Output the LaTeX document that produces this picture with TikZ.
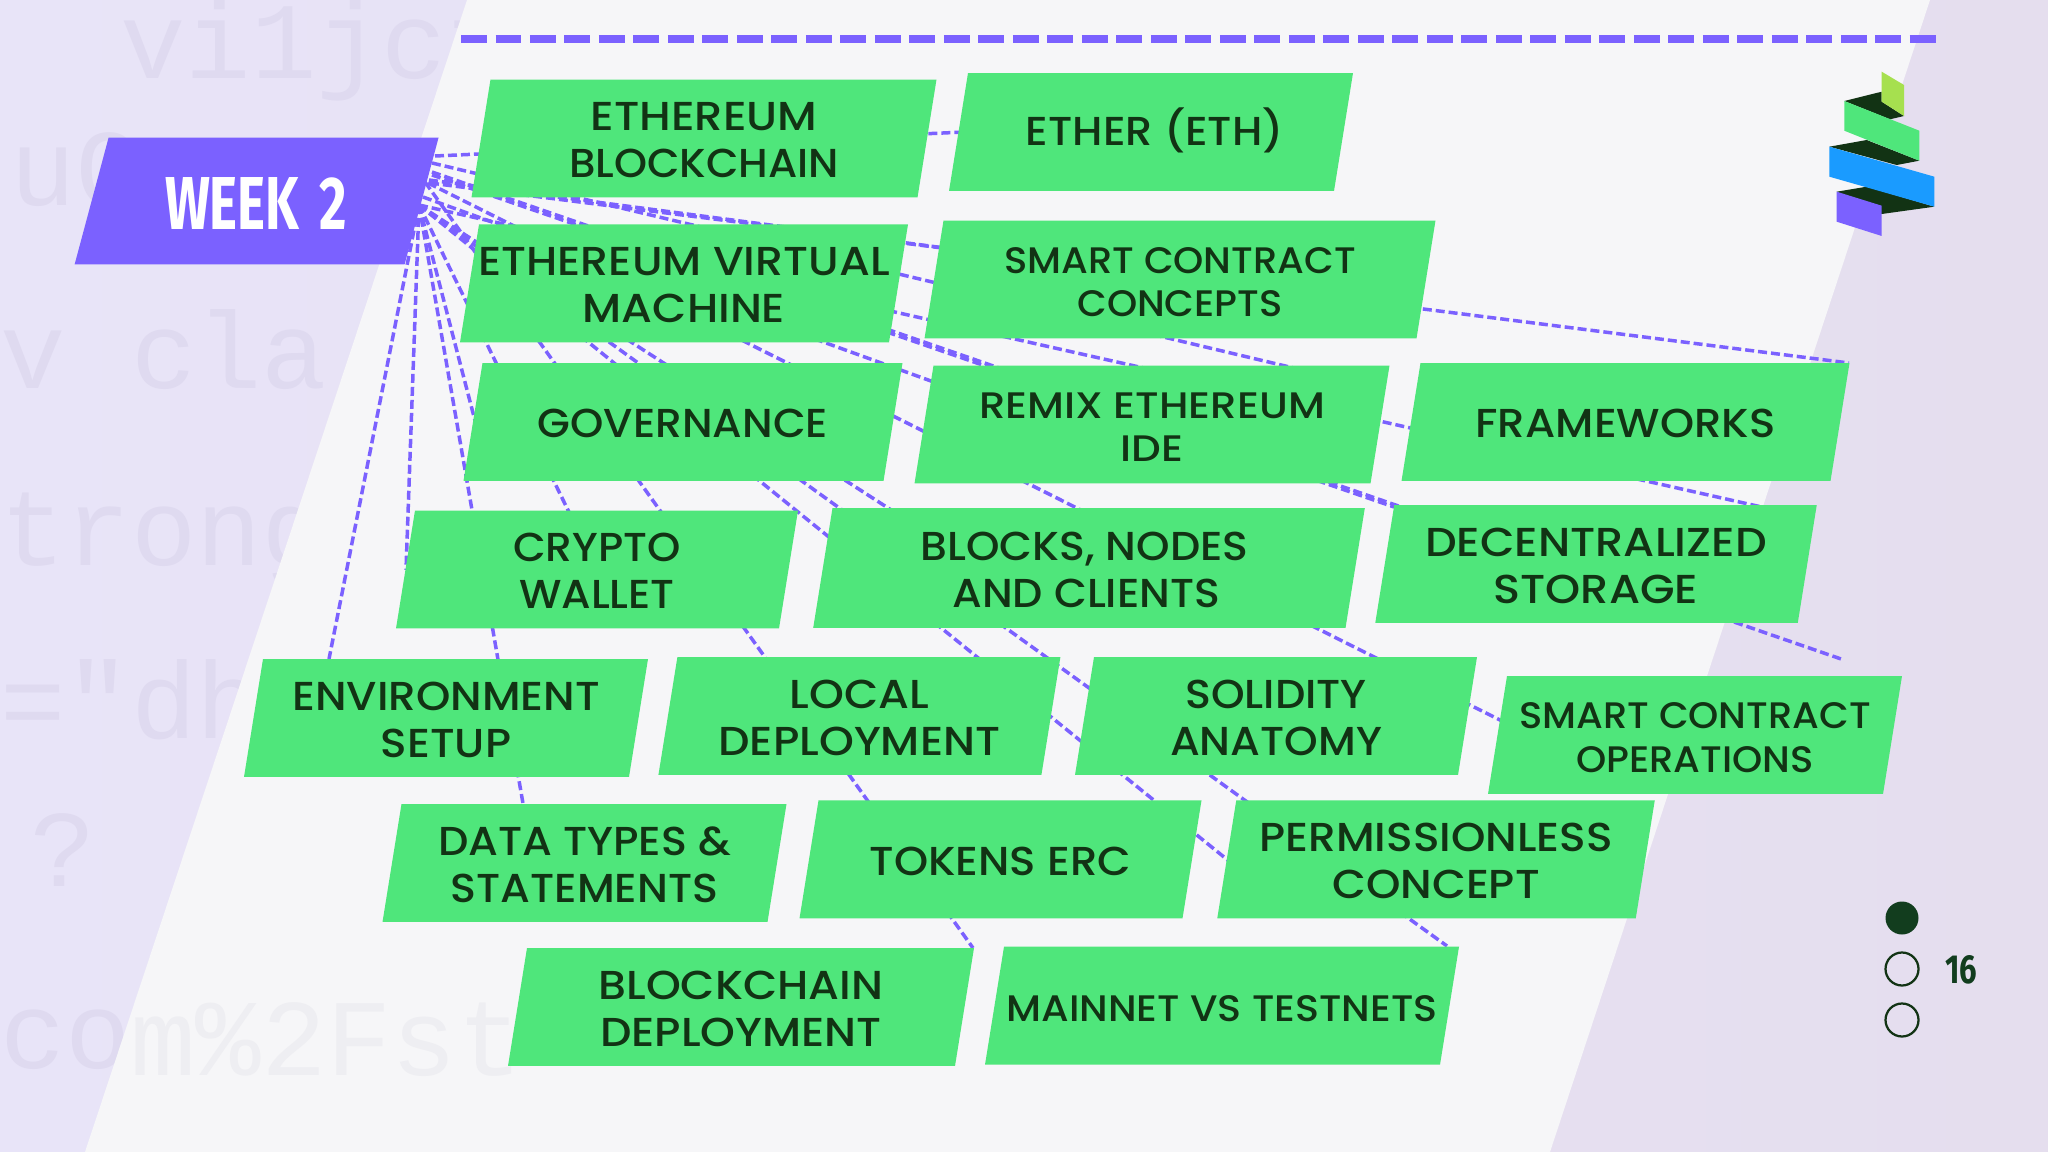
\documentclass[tikz,border=0pt]{standalone}
\usepackage{fontspec}
\usetikzlibrary{shapes.geometric}
\newfontfamily\popf{Poppins Medium}
\newfontfamily\wkf{Fira Sans}[BoldFont=Fira Sans Bold]
\newfontfamily\codef{Liberation Mono}
\definecolor{gboxc}{HTML}{4FE67B}
\definecolor{gtext}{HTML}{123314}
\definecolor{purp}{HTML}{7B61FF}
\definecolor{sheet}{HTML}{F6F6F8}
\definecolor{lavA}{HTML}{E8E4F8}
\definecolor{lavB}{HTML}{E5DEEE}
\definecolor{ghost}{HTML}{DFDAF0}
\definecolor{ghostW}{HTML}{EEEEF2}
\definecolor{limec}{HTML}{A6E04F}
\definecolor{bluec}{HTML}{1A9BFF}
\definecolor{pgc}{HTML}{123D1E}
\newcommand\tl[2][1.06]{\smash{\raisebox{-.43em}{\makebox[0pt][c]{\scalebox{#1}[1]{\begin{tabular}{@{}c@{}}#2\end{tabular}}}}}}
\newcommand\lgt{\fontsize{23}{26.7}\selectfont}
\newcommand\sml{\fontsize{21}{24.7}\selectfont}
\pgfdeclarelayer{bglayer}
\pgfdeclarelayer{connlayer}
\pgfsetlayers{bglayer,connlayer,main}
\tikzset{
  gbox/.style={trapezium,trapezium left angle=80.85,trapezium right angle=99.15,
    fill=gboxc,draw=none,inner ysep=1.18cm,outer sep=0pt,text=gtext,font=\popf\lgt},
  smalltext/.style={font=\popf\sml},
  nw/.style={inner xsep={(#1/2-19)*0.02cm}},
  conn/.style={draw=purp,line width=0.7mm,dash pattern=on 0.18cm off 0.08cm},
  ghosttext/.style={font=\codef\fontsize{62}{62}\selectfont,text=ghost,anchor=west,inner sep=0pt},
  dot/.style={circle,minimum size=0.66cm,inner sep=0pt,draw=gtext,line width=0.45mm},
}
\begin{document}
\begin{tikzpicture}[x=0.02cm,y=-0.02cm]
\useasboundingbox (0,0) rectangle (2048,1152);
\begin{pgfonlayer}{bglayer}
  \shade[left color=lavA,right color=lavB] (0,0) rectangle (2048,1152);
  \node[ghosttext] (g1) at (120,50) {vi1jcf};
  \node[ghosttext] (g2) at (10,170) {uG};
  \node[ghosttext] (g3) at (0,350) {v cla};
  \node[ghosttext] (g4) at (0,540) {trong};
  \node[ghosttext] (g5) at (0,700) {="dh};
  \node[ghosttext] (g6) at (30,850) {?};
  \node[ghosttext] (g7) at (0,1040) {co};
  \fill[sheet] (467,0) -- (1930,0) -- (1550,1152) -- (85,1152) -- cycle;
  \node[ghosttext,text=ghostW] (g8) at (130,1040) {m\%2Fst};
\end{pgfonlayer}

% nodes
\node[fill=purp,trapezium,trapezium left angle=75,trapezium right angle=105,inner ysep=1.27cm,inner xsep=2.96cm] (week) at (256.6,201) {};
\node[text=white,inner sep=0pt] (weekt) at (256,204) {\resizebox{3.64cm}{1.04cm}{\wkf\bfseries WEEK\hspace{.38em}2}};

\node[gbox,nw=465] (n1) at (704,138.5) {\tl[1.04]{\scalebox{1.07}[1]{ETHEREUM}\\BLOCKCHAIN}};
\node[gbox,nw=404] (n2) at (1151,132) {\smash{\raisebox{2.5pt}{\tl[1.066]{\hspace{4pt}ETHER (ETH)}}}};
\node[gbox,nw=448] (n3) at (684,283.4) {\tl[1.097]{ETHEREUM VIRTUAL\\MACHINE}};
\node[gbox,smalltext,nw=511] (n4) at (1180,279.5) {\tl[1.043]{SMART CONTRACT\\CONCEPTS}};
\node[gbox,nw=439] (n5) at (683,422) {\tl[1.05]{GOVERNANCE}};
\node[gbox,smalltext,nw=475] (n6) at (1152,424.5) {\tl[1.134]{REMIX ETHEREUM\\IDE}};
\node[gbox,nw=448] (n7) at (1625.5,422) {\tl[1.075]{FRAMEWORKS}};
\node[gbox,nw=402] (n8) at (597,569.5) {\tl[1.05]{CRYPTO\\WALLET}};
\node[gbox,nw=551,inner ysep=1.2cm] (n9) at (1089,568) {\tl[1.055]{\hspace{-5pt}BLOCKS, NODES\\\hspace{-3pt}AND CLIENTS}};
\node[gbox,nw=441.5] (n10) at (1596,564) {\tl[1.106]{DECENTRALIZED\\STORAGE}};
\node[gbox,nw=404] (n11) at (446,718) {\tl[1.083]{ENVIRONMENT\\SETUP}};
\node[gbox,nw=402] (n12) at (859.4,716) {\tl[1.098]{LOCAL\\DEPLOYMENT}};
\node[gbox,nw=402] (n13) at (1276,716) {\tl[1.06]{SOLIDITY\\ANATOMY}};
\node[gbox,smalltext,nw=414] (n14) at (1695,735) {\tl[1.043]{SMART CONTRACT\\OPERATIONS}};
\node[gbox,nw=404] (n15) at (584.5,863) {\tl[1.06]{DATA TYPES \&\\STATEMENTS}};
\node[gbox,nw=402] (n16) at (1000.5,859.4) {\tl[1.076]{TOKENS ERC}};
\node[gbox,nw=437.5] (n17) at (1436,859.4) {\tl[1.085]{PERMISSIONLESS\\CONCEPT}};
\node[gbox,nw=466] (n18) at (741,1007) {\tl[1.097]{BLOCKCHAIN\\DEPLOYMENT}};
\node[gbox,smalltext,nw=474] (n19) at (1222,1005.7) {\tl[1.075]{MAINNET VS TESTNETS}};

% connector ends
\coordinate (hub) at (419,205);
\coordinate (sa) at (435,156);
\coordinate (sb) at (432,163);
\coordinate (sc) at (432,172);
\coordinate (sd) at (432,175);
\coordinate (se) at (428,183);
\coordinate (sf) at (430,183);
\coordinate (sg) at (429,180);
\coordinate (sh) at (423,197);
\coordinate (si) at (425,182);
\coordinate (ta) at (965,132);
\coordinate (tb) at (1340,379);
\coordinate (tc) at (1844,660);
\coordinate (td) at (1394,507);
\coordinate (te) at (1510,725);
\coordinate (tf) at (1849,363);
\coordinate (tg) at (960,250);
\coordinate (th) at (1000,406);
\coordinate (ti) at (973,948);
\coordinate (tj) at (1775,510);
\coordinate (tk) at (1240,870);
\coordinate (tm) at (1447,946);
\coordinate (tn) at (950,548);
\coordinate (tp) at (480,440);
\coordinate (tq) at (525,815);
\coordinate (tr) at (406,570);
\coordinate (ts) at (329,659);

\begin{pgfonlayer}{connlayer}
  \foreach \s/\t in {sa/ta,sb/tb,sc/tc,sd/td,se/te,sf/tf,sg/tg,sh/th,si/ti,
    hub/tj,hub/n8.center,hub/tk,hub/tm,hub/tn,hub/tp,hub/tq,hub/tr,hub/ts}
    \draw[conn] (\s) -- (\t);
\end{pgfonlayer}

% top rule
\coordinate (ruleA) at (461,39);
\coordinate (ruleB) at (1936,39);
\draw[purp,line width=0.16cm,dash pattern=on 0.52cm off 0.17cm] (ruleA) -- (ruleB);

% logo
\fill[gtext] (1844.3,101) -- (1881.7,91.7) -- (1881.7,101.7) -- (1904,116) -- (1890,119.3) -- cycle;
\fill[gtext] (1829.3,146.7) -- (1866.7,140) -- (1919.3,160.7) -- (1896.7,165) -- cycle;
\fill[gtext] (1836.7,191.7) -- (1866.7,186.7) -- (1934.3,206.7) -- (1881.7,214) -- cycle;
\fill[limec] (1881.7,71.7) -- (1904,85) -- (1904,116) -- (1881.7,101.7) -- cycle;
\fill[gboxc] (1844.3,101) -- (1919.3,130.7) -- (1919.3,160.7) -- (1844.3,130.7) -- cycle;
\fill[bluec] (1829.3,146.7) -- (1934.3,176.7) -- (1934.3,206.7) -- (1829.3,176.7) -- cycle;
\fill[purp] (1836.7,191.7) -- (1881.7,205.7) -- (1881.7,236) -- (1836.7,221.7) -- cycle;

% page marker
\node[dot,fill=pgc,draw=none] (d1) at (1902,918) {};
\node[dot] (d2) at (1902,969) {};
\node[dot] (d3) at (1902,1020) {};
\node[text=pgc,inner sep=0pt] (pg) at (1961,970) {\resizebox{0.64cm}{0.56cm}{\wkf\bfseries 16}};
\end{tikzpicture}
\end{document}
